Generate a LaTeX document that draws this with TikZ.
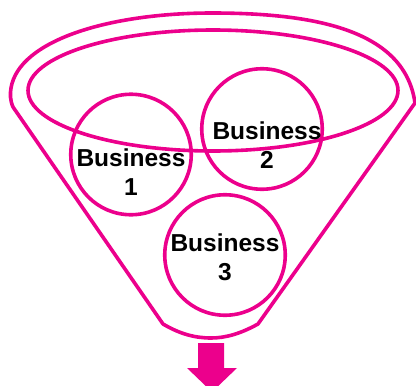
\documentclass[tikz,border=0pt]{standalone}
\usepackage{fontspec}
\usetikzlibrary{shapes.geometric}
\setmainfont{Liberation Sans}
\definecolor{funnelpink}{HTML}{EC008C}
\tikzset{
  pinkline/.style={draw=funnelpink,line width=3.6pt,line join=round},
  bizcircle/.style={circle,pinkline,minimum size=120.5pt,inner sep=0pt},
  bizlabel/.style={font=\fontsize{24.5}{29}\selectfont\bfseries,align=center,text=black,inner sep=0pt}
}
\begin{document}
\begin{tikzpicture}[x=1pt,y=-1pt]
\useasboundingbox (0,0) rectangle (416,386);
\clip (0,0) rectangle (416,386);
% funnel outline
\draw[pinkline] (13,107) .. controls (10,100) and (10,94) .. (11,88)
  .. controls (19,40) and (110,13) .. (212,13)
  .. controls (320,13) and (405,32) .. (415,103)
  -- (258,324) .. controls (240,334) and (225,338) .. (211,338)
  .. controls (195,338) and (180,334) .. (163,324) -- cycle;
% inner rim
\node[ellipse,pinkline,minimum width=370pt,minimum height=121pt,inner sep=0pt] (rim) at (213,90.5) {};
% businesses
\node[bizcircle] (c1) at (131,154.5) {};
\node[bizcircle] (c2) at (262,129) {};
\node[bizcircle] (c3) at (225,255) {};
\node[bizlabel] (t1) at (131,172) {Business\\1};
\node[bizlabel] (t2) at (267,145) {Business\\2};
\node[bizlabel] (t3) at (225,257) {Business\\3};
% output arrow
\fill[funnelpink] (198,343) -- (224,343) -- (224,368) -- (237,368) -- (212,392) -- (187,368) -- (198,368) -- cycle;
\end{tikzpicture}
\end{document}
